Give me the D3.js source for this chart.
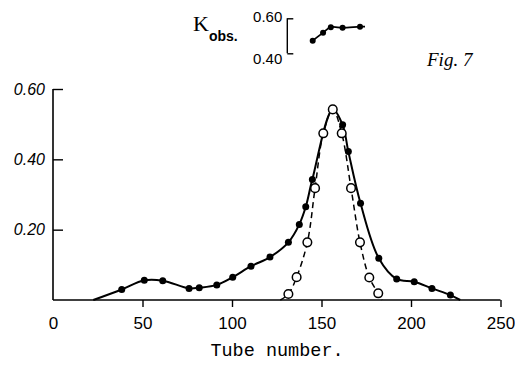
<!DOCTYPE html>
<html><head><meta charset="utf-8">
<script src="https://cdn.jsdelivr.net/npm/d3@7"></script>
<style>html,body{margin:0;padding:0;background:#fff;}svg{display:block;}</style>
</head><body>
<svg id="chart" width="515" height="366"></svg>
<script>
// Filled circles, solid line (tube number, value)
const solidTubes  = [22.5, 38.4, 51.0, 61.3, 76.0, 81.7, 91.5, 100.4, 110.6, 121.2, 131.5, 137.6, 141.2, 144.9, 156.3, 161.8, 165.0, 171.8, 182.0, 192.0, 201.8, 211.7, 222.0, 227.5];
const solidValues = [0.000, 0.030, 0.056, 0.055, 0.033, 0.035, 0.043, 0.065, 0.096, 0.122, 0.164, 0.215, 0.265, 0.343, 0.542, 0.498, 0.422, 0.275, 0.119, 0.060, 0.052, 0.033, 0.014, 0.000];
const solidMarked = [false, true, true, true, true, true, true, true, true, true, true, true, true, true, false, true, true, true, true, true, true, true, true, false];
// Open circles, dashed line
const openTubes  = [127.0, 131.5, 136.1, 142.1, 146.4, 151.0, 156.3, 161.3, 166.5, 171.5, 176.7, 181.7, 183.8];
const openValues = [0.000, 0.017, 0.065, 0.164, 0.318, 0.474, 0.542, 0.474, 0.318, 0.164, 0.064, 0.019, 0.000];
const openMarked = [false, true, true, true, true, true, true, true, true, true, true, true, false];
// Inset K obs.
const kX      = [0, 10.3, 18, 29.7, 47, 52];
const kValues = [0.472, 0.518, 0.549, 0.546, 0.552, 0.552];
const kMarked = [true, true, true, true, true, false];
const kTicks  = [0.40, 0.60];
// Axes
const xTicks = [0, 50, 100, 150, 200, 250];
const yTicks = [0.20, 0.40, 0.60];

const svg = d3.select("#chart");
const x = d3.scaleLinear().domain([0, 250]).range([53, 500.5]);
const y = d3.scaleLinear().domain([0, 0.6]).range([300, 89]);

// axes lines
svg.append("line").attr("x1", x(0)).attr("x2", x(250)).attr("y1", y(0)).attr("y2", y(0))
  .attr("stroke", "#000").attr("stroke-width", 1.6);
svg.append("line").attr("x1", x(0)).attr("x2", x(0)).attr("y1", y(0)).attr("y2", y(0.6))
  .attr("stroke", "#000").attr("stroke-width", 1.6);

const xAxis = d3.axisBottom(x).tickValues(xTicks).tickSize(7).tickPadding(10).tickFormat(d3.format("d"));
const gx = svg.append("g").attr("transform", `translate(0,${y(0)})`).call(xAxis);
gx.select(".domain").remove();
gx.selectAll(".tick line").attr("stroke-width", 1.4).filter(d => d === 0).remove();
gx.selectAll("text").attr("font-family", "Liberation Sans, Arial, sans-serif").attr("font-size", 17).attr("fill", "#000");

const yAxis = d3.axisRight(y).tickValues(yTicks).tickSize(10).tickFormat(d3.format(".2f"));
const gy = svg.append("g").attr("transform", `translate(${x(0)},0)`).call(yAxis);
gy.select(".domain").remove();
gy.selectAll(".tick line").attr("stroke-width", 1.4);
gy.selectAll("text").attr("x", -8).attr("text-anchor", "end")
  .attr("font-family", "Liberation Sans, Arial, sans-serif").attr("font-style", "italic")
  .attr("font-size", 16).attr("fill", "#000");

svg.append("text").attr("x", 277).attr("y", 356).attr("text-anchor", "middle")
  .attr("font-family", "Liberation Mono, Courier New, monospace").attr("font-size", 18.5)
  .text("Tube number.");

svg.append("text").attr("x", 427).attr("y", 66)
  .attr("font-family", "Liberation Serif, serif").attr("font-style", "italic").attr("font-size", 19)
  .text("Fig. 7");

// lines
const line = d3.line().x(d => x(d[0])).y(d => y(d[1])).curve(d3.curveCatmullRom.alpha(0.5));
const solidData = solidTubes.map((t, i) => [t, solidValues[i], solidMarked[i]]);
const openData = openTubes.map((t, i) => [t, openValues[i], openMarked[i]]);

svg.append("path").datum(openData).attr("d", line).attr("fill", "none")
  .attr("stroke", "#000").attr("stroke-width", 1.5).attr("stroke-dasharray", "6,4");
svg.append("path").datum(solidData).attr("d", line).attr("fill", "none")
  .attr("stroke", "#000").attr("stroke-width", 2);

svg.selectAll("circle.filled").data(solidData.filter(d => d[2])).join("circle")
  .attr("class", "filled").attr("cx", d => x(d[0])).attr("cy", d => y(d[1])).attr("r", 3.5).attr("fill", "#000");
svg.selectAll("circle.open").data(openData.filter(d => d[2])).join("circle")
  .attr("class", "open").attr("cx", d => x(d[0])).attr("cy", d => y(d[1])).attr("r", 4.3)
  .attr("fill", "#fff").attr("stroke", "#000").attr("stroke-width", 1.5);

// inset
const kx = d3.scaleLinear().domain([0, 47]).range([312.7, 360]);
const ky = d3.scaleLinear().domain([0.40, 0.60]).range([53.3, 18.3]);
const kAxis = d3.axisRight(ky).tickValues(kTicks).tickSize(6).tickFormat(d3.format(".2f"));
const gk = svg.append("g").attr("transform", "translate(287.3,0)").call(kAxis);
gk.select(".domain").remove();
gk.append("line").attr("x1", 0).attr("x2", 0).attr("y1", ky(0.40)).attr("y2", ky(0.60)).attr("stroke", "#000").attr("stroke-width", 1.4);
gk.selectAll(".tick line").attr("stroke-width", 1.4);
gk.selectAll("text").attr("x", -5).attr("text-anchor", "end")
  .attr("font-family", "Liberation Sans, Arial, sans-serif").attr("font-size", 15).attr("fill", "#000")
  .attr("dy", d => d === 0.40 ? "0.65em" : "0.2em");

const kData = kX.map((t, i) => [t, kValues[i], kMarked[i]]);
const kline = d3.line().x(d => kx(d[0])).y(d => ky(d[1])).curve(d3.curveCatmullRom.alpha(0.5));
svg.append("path").datum(kData).attr("d", kline).attr("fill", "none").attr("stroke", "#000").attr("stroke-width", 1.8);
svg.selectAll("circle.k").data(kData.filter(d => d[2])).join("circle")
  .attr("class", "k").attr("cx", d => kx(d[0])).attr("cy", d => ky(d[1])).attr("r", 3).attr("fill", "#000");

const kl = svg.append("text").attr("x", 193).attr("y", 31)
  .attr("font-family", "Liberation Serif, serif").attr("font-size", 22);
kl.append("tspan").text("K");
kl.append("tspan").attr("dy", 10).attr("font-family", "Liberation Sans, Arial, sans-serif")
  .attr("font-weight", "bold").attr("font-size", 14).text("obs.");
</script>
</body></html>
